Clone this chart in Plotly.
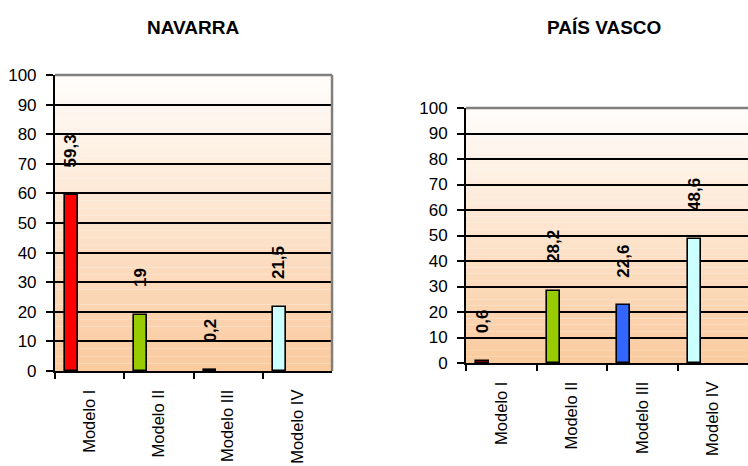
import plotly.graph_objects as go

categories = ["Modelo I", "Modelo II", "Modelo III", "Modelo IV"]
navarra = [59.3, 19, 0.2, 21.5]
pais_vasco = [0.6, 28.2, 22.6, 48.6]
bar_colors = ["#FF0000", "#99CC00", "#3366FF", "#CCFFFF"]
titles = ["NAVARRA", "PAÍS VASCO"]

TICK_FONT = "Liberation Sans, Arial, sans-serif"

BAR_OFFSET = -0.355
BAR_WIDTH = 0.185


def fmt(v):
    s = f"{v:g}"
    return s.replace(".", ",")


def lerp_color(c0, c1, t):
    r = round(c0[0] + (c1[0] - c0[0]) * t)
    g = round(c0[1] + (c1[1] - c0[1]) * t)
    b = round(c0[2] + (c1[2] - c0[2]) * t)
    return f"rgb({r},{g},{b})"


fig = go.Figure()
# (x axis, y axis, values, x domain, y domain, title x, draw right border)
panels = [
    ("x", "y", navarra, [0.0735, 0.4439], [0.2039, 0.8391], 0.258, True),
    ("x2", "y2", pais_vasco, [0.623, 1.0], [0.2210, 0.7682], 0.8075, False),
]

top_col = (255, 253, 251)
bottom_col = (250, 202, 158)
n_bands = 40

for (xr, yr, values, xdom, ydom, title_x, right_border), title in zip(panels, titles):
    fig.add_trace(go.Bar(
        x=categories,
        y=values,
        xaxis=xr,
        yaxis=yr,
        width=BAR_WIDTH,
        offset=BAR_OFFSET,
        marker=dict(color=bar_colors, line=dict(color="black", width=1.6)),
        showlegend=False,
        hoverinfo="skip",
    ))

    # gradient background
    for k in range(n_bands):
        fig.add_shape(
            type="rect",
            xref=f"{xr} domain", yref=f"{yr} domain",
            x0=0, x1=1, y0=k / n_bands, y1=(k + 1) / n_bands,
            fillcolor=lerp_color(bottom_col, top_col, (k + 0.5) / n_bands),
            line=dict(width=0),
            layer="below",
        )
    # gray top/right border
    fig.add_shape(type="line", xref=f"{xr} domain", yref=f"{yr} domain",
                  x0=0, x1=1, y0=1, y1=1, line=dict(color="#808080", width=2.5))
    if right_border:
        fig.add_shape(type="line", xref=f"{xr} domain", yref=f"{yr} domain",
                      x0=1, x1=1, y0=0, y1=1, line=dict(color="#808080", width=2.5))

    # value labels
    for i, v in enumerate(values):
        fig.add_annotation(
            x=i + BAR_OFFSET + BAR_WIDTH / 2, y=v, xref=xr, yref=yr,
            text=f"<b>{fmt(v)}</b>", textangle=-90, showarrow=False,
            yanchor="bottom", yshift=26,
            font=dict(family=TICK_FONT, size=17, color="black"),
        )

    fig.add_annotation(
        x=title_x, y=0.942, xref="paper", yref="paper",
        xanchor="center", yanchor="middle",
        text=f"<b>{title}</b>", showarrow=False,
        font=dict(family=TICK_FONT, size=19, color="black"),
    )

    xkey = "xaxis" if xr == "x" else "xaxis2"
    ykey = "yaxis" if yr == "y" else "yaxis2"
    fig.update_layout(**{
        xkey: dict(
            domain=xdom, anchor=yr, type="category", range=[-0.5, 3.5],
            tickson="boundaries", ticks="outside", ticklen=6, tickwidth=2,
            tickcolor="black", showline=True, linecolor="black", linewidth=2,
            showgrid=False, tickangle=-90, ticklabelstandoff=10,
            automargin=False,
            tickfont=dict(family=TICK_FONT, size=16.5, color="black"),
        ),
        ykey: dict(
            domain=ydom, anchor=xr, range=[0, 100], dtick=10,
            ticks="outside", ticklen=7, tickwidth=2, tickcolor="black",
            showline=True, linecolor="black", linewidth=2,
            showgrid=True, gridcolor="black", gridwidth=2, zeroline=False,
            ticklabelstandoff=6, automargin=False,
            tickfont=dict(family=TICK_FONT, size=17, color="black"),
        ),
    })

fig.update_layout(
    width=748,
    height=466,
    margin=dict(l=0, r=0, t=0, b=0),
    paper_bgcolor="white",
    plot_bgcolor="white",
    bargap=0,
)

fig.write_html(
    "out.html",
    config={"displayModeBar": False},
    post_script="document.body.style.margin = '0';",
)
